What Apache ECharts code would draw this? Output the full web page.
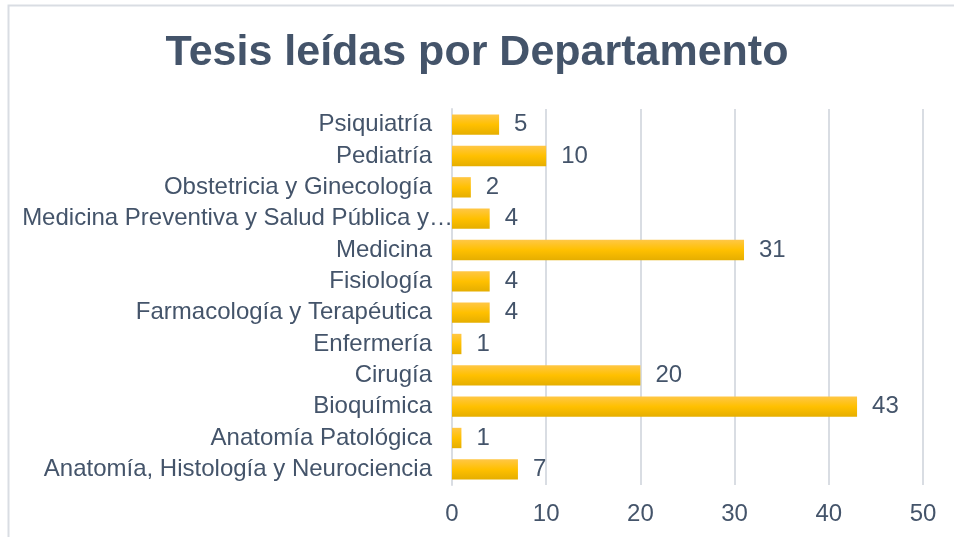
<!DOCTYPE html>
<html>
<head>
<meta charset="utf-8">
<script src="https://cdn.jsdelivr.net/npm/echarts@6/dist/echarts.min.js"></script>
<style>
html,body{margin:0;padding:0;background:#fff;}
#main{width:954px;height:537px;}
</style>
</head>
<body>
<div id="main"></div>
<script>
// departamentos, de abajo hacia arriba
var departamentos = ['Anatomía, Histología y Neurociencia', 'Anatomía Patológica', 'Bioquímica', 'Cirugía', 'Enfermería',
	'Farmacología y Terapéutica', 'Fisiología', 'Medicina', 'Medicina Preventiva y Salud Pública y…',
	'Obstetricia y Ginecología', 'Pediatría', 'Psiquiatría'];
var tesis = [7, 1, 43, 20, 1, 4, 4, 31, 4, 2, 10, 5];
var ticksX = [0, 10, 20, 30, 40, 50];

var textColor = '#44546A';
var myChart = echarts.init(document.getElementById('main'));
var option = {
	backgroundColor: '#fff',
	animation: false,
	graphic: [{
		type: 'rect',
		shape: {x: 8.5, y: 5.5, width: 960, height: 540},
		style: {fill: 'none', stroke: '#D9DDE3', lineWidth: 2},
		silent: true
	}],
	title: {
		text: 'Tesis leídas por Departamento',
		left: 'center',
		top: 27,
		textStyle: {
			fontFamily: 'Liberation Sans',
			fontSize: 43,
			fontWeight: 'bold',
			color: textColor
		}
	},
	grid: {left: 452, right: 31, top: 109, bottom: 52},
	xAxis: {
		type: 'value',
		min: ticksX[0],
		max: ticksX[ticksX.length - 1],
		interval: 10,
		axisLine: {show: false},
		axisTick: {show: false},
		splitLine: {lineStyle: {color: '#D9DDE3', width: 2}},
		axisLabel: {
			margin: 17,
			fontFamily: 'Liberation Sans',
			fontSize: 24,
			color: textColor
		}
	},
	yAxis: {
		type: 'category',
		data: departamentos,
		axisLine: {lineStyle: {color: '#D9DDE3', width: 2}},
		axisTick: {show: false},
		axisLabel: {
			margin: 20,
			fontFamily: 'Liberation Sans',
			fontSize: 24,
			color: textColor,
			formatter: function(v) {
				// la etiqueta recortada se sale un poco hacia la barra
				if(v.indexOf('…') > -1) {
					return '{largo|' + v + '}';
				}
				return v;
			},
			rich: {
				largo: {
					fontFamily: 'Liberation Sans',
					fontSize: 24,
					color: textColor,
					padding: [0, -21, 0, 0]
				}
			}
		}
	},
	series: [{
		type: 'bar',
		data: tesis,
		barCategoryGap: '35%',
		itemStyle: {
			color: new echarts.graphic.LinearGradient(0, 0, 0, 1, [
				{offset: 0, color: '#FFC746'},
				{offset: 0.5, color: '#FFC000'},
				{offset: 1, color: '#E5AE00'}
			])
		},
		label: {
			show: true,
			position: 'right',
			distance: 15,
			fontFamily: 'Liberation Sans',
			fontSize: 24,
			color: textColor
		}
	}]
};
myChart.setOption(option);
</script>
</body>
</html>
